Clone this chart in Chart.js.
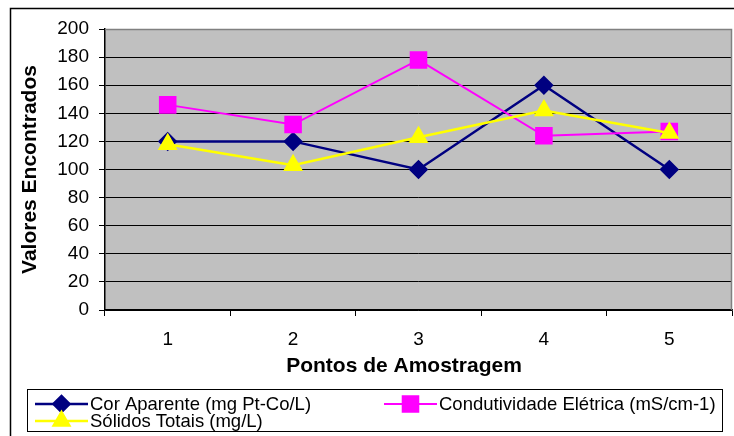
<!DOCTYPE html>
<html>
<head>
<meta charset="utf-8">
<script src="https://cdn.jsdelivr.net/npm/chart.js@4"></script>
<style>
  html, body { margin: 0; padding: 0; background: #fff; overflow: hidden; }
  #wrap { width: 734px; height: 436px; position: relative; }
  canvas { display: block; }
</style>
</head>
<body>
<div id="wrap"><canvas id="chart"></canvas></div>
<script>
// data
const pontos = ['1', '2', '3', '4', '5'];
const corAparente = [120, 120, 100, 160, 100];
const condutividade = [146, 132, 178, 124, 127];
const solidos = [118, 103, 123, 142, 126];
const seriesNames = ['Cor Aparente (mg Pt-Co/L)', 'Condutividade Elétrica (mS/cm-1)', 'Sólidos Totais (mg/L)'];
const xTitle = 'Pontos de Amostragem';
const yTitle = 'Valores Encontrados';

const FONT = 'Arial, "Liberation Sans", sans-serif';

// grey plot background + frame, outer border, x title, legend box
const excelLook = {
  id: 'excelLook',
  beforeDraw(chart) {
    const { ctx, chartArea: a } = chart;
    ctx.save();
    ctx.fillStyle = '#c0c0c0';
    ctx.fillRect(a.left, a.top, a.right - a.left, a.bottom - a.top);
    ctx.restore();
  },
  afterDraw(chart) {
    const { ctx, chartArea: a } = chart;
    ctx.save();
    // plot frame (top / right)
    ctx.strokeStyle = '#808080';
    ctx.lineWidth = 1.5;
    ctx.beginPath();
    ctx.moveTo(a.left, a.top + 0.5);
    ctx.lineTo(a.right - 0.5, a.top + 0.5);
    ctx.lineTo(a.right - 0.5, a.bottom);
    ctx.stroke();
    // outer chart border
    ctx.strokeStyle = '#000';
    ctx.lineWidth = 1.5;
    ctx.beginPath();
    ctx.moveTo(10.5, 436);
    ctx.lineTo(10.5, 8.5);
    ctx.lineTo(734, 8.5);
    ctx.stroke();

    // x axis title (Excel centres it on the whole chart, not the plot)
    ctx.fillStyle = '#000';
    ctx.font = 'bold 21px ' + FONT;
    ctx.textAlign = 'center';
    ctx.textBaseline = 'middle';
    ctx.fillText(xTitle, 404, 366);

    // legend
    ctx.textAlign = 'left';
    ctx.lineWidth = 1;
    ctx.strokeStyle = '#000';
    ctx.strokeRect(27.5, 389.5, 695, 42);
    const items = [
      { x: 35, y: 404, ds: 0 },
      { x: 384, y: 404, ds: 1 },
      { x: 35, y: 421, ds: 2 }
    ];
    ctx.font = '18.5px ' + FONT;
    items.forEach(it => {
      const ds = chart.data.datasets[it.ds];
      ctx.strokeStyle = ds.borderColor;
      ctx.lineWidth = ds.borderWidth;
      ctx.beginPath();
      ctx.moveTo(it.x, it.y);
      ctx.lineTo(it.x + 53, it.y);
      ctx.stroke();
      Chart.helpers.drawPoint(ctx, {
        pointStyle: ds.pointStyle,
        radius: ds.pointRadius,
        borderWidth: 1
      }, it.x + 26.5, it.y);
      ctx.fillStyle = ds.pointBackgroundColor;
      ctx.fill();
      ctx.fillStyle = '#000';
      ctx.fillText(seriesNames[it.ds], it.x + 55, it.y + 1);
    });
    ctx.restore();
  }
};

new Chart(document.getElementById('chart'), {
  type: 'line',
  data: {
    labels: pontos,
    datasets: [
      {
        label: seriesNames[0],
        data: corAparente,
        borderColor: '#000080',
        backgroundColor: '#000080',
        pointBackgroundColor: '#000080',
        pointBorderColor: '#000080',
        borderWidth: 2.5,
        pointStyle: 'rectRot',
        pointRadius: 8,
        order: 3
      },
      {
        label: seriesNames[1],
        data: condutividade,
        borderColor: '#ff00ff',
        backgroundColor: '#ff00ff',
        pointBackgroundColor: '#ff00ff',
        pointBorderColor: '#ff00ff',
        borderWidth: 2,
        pointStyle: 'rect',
        pointRadius: 11,
        order: 2
      },
      {
        label: seriesNames[2],
        data: solidos,
        borderColor: '#ffff00',
        backgroundColor: '#ffff00',
        pointBackgroundColor: '#ffff00',
        pointBorderColor: '#ffff00',
        borderWidth: 2.5,
        pointStyle: 'triangle',
        pointRadius: 9,
        order: 1
      }
    ]
  },
  options: {
    responsive: true,
    maintainAspectRatio: false,
    animation: false,
    layout: { autoPadding: false, padding: { left: 10, top: 29, right: 2, bottom: 56 } },
    plugins: { legend: { display: false }, tooltip: { enabled: false } },
    elements: { line: { tension: 0 } },
    scales: {
      x: {
        offset: true,
        grid: { offset: true, drawOnChartArea: false, drawTicks: true, tickLength: 6, color: '#000' },
        border: { color: '#000', width: 1.5 },
        ticks: { color: '#000', font: { family: FONT, size: 19 }, padding: 12 },
        afterFit: s => { s.height = 70; s.paddingLeft = 0; s.paddingRight = 0; }
      },
      y: {
        min: 0, max: 200,
        ticks: { stepSize: 20, color: '#000', font: { family: FONT, size: 19 }, padding: 10 },
        grid: { color: '#000', lineWidth: 1, drawTicks: true, tickLength: 6 },
        border: { color: '#000', width: 1.5 },
        title: {
          display: true, text: yTitle, color: '#000',
          font: { family: FONT, size: 21, weight: 'bold' }, padding: { top: 8, bottom: 0 }
        },
        afterFit: s => { s.width = 95; }
      }
    }
  },
  plugins: [excelLook]
});
</script>
</body>
</html>
